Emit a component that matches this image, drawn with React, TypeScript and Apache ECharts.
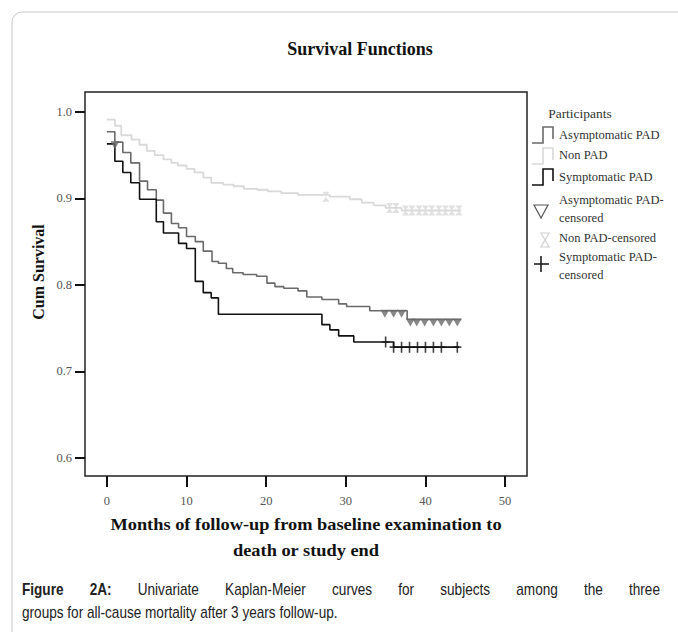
import React, { useEffect, useRef } from "react";
import * as echarts from "echarts";

const X_TICKS = [0, 10, 20, 30, 40, 50];
const Y_TICKS = [0.6, 0.7, 0.8, 0.9, 1.0];

const ASYM_T = [0, 1.0, 2.0, 3.0, 4.1, 5.1, 6.2, 7.1, 8.1, 9.0, 10.0, 11.1, 12.1, 13.2, 14.0, 15.0, 15.8, 17.1, 18.8, 20.1, 21.1, 22.2, 24.0, 25.1, 27.0, 29.1, 30.1, 33.0, 37.7, 44.5];
const ASYM_S = [0.977, 0.965, 0.953, 0.941, 0.92, 0.91, 0.898, 0.883, 0.871, 0.866, 0.856, 0.85, 0.839, 0.827, 0.825, 0.819, 0.814, 0.812, 0.81, 0.802, 0.798, 0.796, 0.793, 0.786, 0.783, 0.778, 0.775, 0.77, 0.76, 0.76];

const NON_T = [0, 1.0, 1.8, 3.1, 4.1, 5.0, 6.0, 7.1, 8.1, 8.9, 10.0, 11.0, 12.1, 13.1, 14.6, 15.9, 17.2, 18.9, 20.2, 21.9, 24.0, 28.0, 30.5, 32.0, 33.5, 35.0, 37.0, 44.5];
const NON_S = [0.991, 0.984, 0.973, 0.968, 0.962, 0.955, 0.95, 0.945, 0.941, 0.938, 0.934, 0.93, 0.924, 0.918, 0.916, 0.914, 0.911, 0.91, 0.908, 0.906, 0.904, 0.902, 0.899, 0.895, 0.892, 0.889, 0.886, 0.886];

const SYM_T = [0, 1.0, 2.0, 3.0, 4.1, 6.2, 7.1, 9.0, 10.0, 11.1, 12.1, 13.1, 14.0, 27.0, 28.0, 29.1, 31.0, 36.0, 44.2];
const SYM_S = [0.963, 0.943, 0.93, 0.918, 0.899, 0.873, 0.86, 0.848, 0.842, 0.804, 0.791, 0.785, 0.766, 0.754, 0.748, 0.741, 0.734, 0.728, 0.728];

const ASYM_CENS_T = [1.0, 34.9, 36.0, 37.0, 38.1, 38.9, 39.9, 41.0, 42.0, 43.0, 44.0];
const ASYM_CENS_S = [0.965, 0.77, 0.77, 0.77, 0.76, 0.76, 0.76, 0.76, 0.76, 0.76, 0.76];

const NON_CENS_T = [27.5, 35.5, 36.3, 37.5, 38.3, 39.2, 40.0, 40.8, 41.7, 42.5, 43.3, 44.2];
const NON_CENS_S = [0.902, 0.889, 0.889, 0.886, 0.886, 0.886, 0.886, 0.886, 0.886, 0.886, 0.886, 0.886];

const SYM_CENS_T = [35.0, 36.0, 37.0, 38.0, 39.0, 40.0, 41.0, 42.0, 44.0];
const SYM_CENS_S = [0.734, 0.728, 0.728, 0.728, 0.728, 0.728, 0.728, 0.728, 0.728];

const TITLE = "Survival Functions";
const X_NAME = ["Months of follow-up from baseline examination to", "death or study end"];
const Y_NAME = "Cum Survival";
const LEGEND_TITLE = "Participants";
const CAPTION_1 = ["Figure", "2A:", "Univariate", "Kaplan-Meier", "curves", "for", "subjects", "among", "the", "three"];
const CAPTION_BOLD = 2;
const CAPTION_2 = "groups for all-cause mortality after 3 years follow-up.";

const zip = (a: number[], b: number[]) => a.map((v, i) => [v, b[i]]);

const C_ASYM = "#6a6a6a";
const C_NON = "#d9d9d9";
const C_SYM = "#111111";
const SERIF = "'Liberation Serif', 'DejaVu Serif', serif";
const SANS = "'Liberation Sans', Arial, sans-serif";

const HOURGLASS = "path://M0,0 L10,0 L5,8 L10,16 L0,16 L5,8 Z";
const PLUS = "path://M4,0 H6 V6 H10 V8 H6 V14 H4 V8 H0 V6 H4 Z";

export default function App() {
  const ref = useRef<HTMLDivElement>(null);
  useEffect(() => {
    if (!ref.current) return;
    const chart = echarts.init(ref.current, null, { renderer: "svg" });

    // caption justification
    const canvas = document.createElement("canvas");
    const ctx = canvas.getContext("2d")!;
    const capSize = 16;
    const capScale = 0.85;
    const fontB = `bold ${capSize}px ${SANS}`;
    const fontN = `${capSize}px ${SANS}`;
    const widths = CAPTION_1.map((w, i) => {
      ctx.font = i < CAPTION_BOLD ? fontB : fontN;
      return ctx.measureText(w).width * capScale;
    });
    const left = 22, right = 660;
    const total = widths.reduce((a, b) => a + b, 0);
    const gap = (right - left - total) / (CAPTION_1.length - 1);
    let cx = left;
    const capWords: any[] = CAPTION_1.map((w, i) => {
      const el = {
        type: "text",
        x: cx,
        y: 590,
        scaleX: capScale,
        style: {
          text: w,
          font: i < CAPTION_BOLD ? fontB : fontN,
          fill: "#222",
          align: "left",
          verticalAlign: "middle",
        },
      };
      cx += widths[i] + gap;
      return el;
    });

    const legText = (text: string, y: number) => ({
      type: "text",
      x: 559,
      y,
      style: { text, font: `12.5px ${SERIF}`, fill: "#333", align: "left", verticalAlign: "middle" },
    });
    const stepIcon = (cy: number, color: string) => ({
      type: "polyline",
      shape: {
        points: [
          [532, cy + 8],
          [543, cy + 8],
          [543, cy - 8],
          [553, cy - 8],
          [553, cy + 4],
        ],
      },
      style: { stroke: color, lineWidth: 1.6, fill: "none" },
    });

    const option: any = {
      animation: false,
      backgroundColor: "#fff",
      title: {
        text: TITLE,
        left: 355,
        top: 35,
        textAlign: "center",
        textStyle: { fontFamily: SERIF, fontSize: 18, fontWeight: "bold", color: "#111" },
      },
      grid: {
        left: 85,
        right: 151,
        top: 92,
        bottom: 156,
        show: true,
        borderColor: "#222",
        borderWidth: 1.5,
        backgroundColor: "#fff",
      },
      xAxis: {
        type: "value",
        min: -2.75,
        max: 52.75,
        splitLine: { show: false },
        axisLine: { show: false, onZero: false },
        axisTick: { show: true, length: 11, lineStyle: { color: "#111", width: 2 }, customValues: X_TICKS },
        axisLabel: {
          customValues: X_TICKS,
          margin: 18,
          fontFamily: SERIF,
          fontSize: 12.5,
          color: "#555",
        },
      },
      yAxis: {
        type: "value",
        min: 0.579,
        max: 1.023,
        splitLine: { show: false },
        axisLine: { show: false, onZero: false },
        axisTick: { show: true, length: 10, lineStyle: { color: "#111", width: 2 }, customValues: Y_TICKS },
        axisLabel: {
          customValues: Y_TICKS,
          margin: 13,
          fontFamily: SERIF,
          fontSize: 12.5,
          color: "#555",
          formatter: (v: number) => v.toFixed(1),
        },
      },
      series: [
        {
          name: "Non PAD",
          type: "line",
          step: "end",
          showSymbol: false,
          data: zip(NON_T, NON_S),
          lineStyle: { color: C_NON, width: 1.8 },
          z: 2,
        },
        {
          name: "Asymptomatic PAD",
          type: "line",
          step: "end",
          showSymbol: false,
          data: zip(ASYM_T, ASYM_S),
          lineStyle: { color: C_ASYM, width: 1.6 },
          z: 3,
        },
        {
          name: "Symptomatic PAD",
          type: "line",
          step: "end",
          showSymbol: false,
          data: zip(SYM_T, SYM_S),
          lineStyle: { color: C_SYM, width: 1.6 },
          z: 4,
        },
        {
          name: "Non PAD-censored",
          type: "scatter",
          symbol: HOURGLASS,
          symbolSize: [7, 10],
          data: zip(NON_CENS_T, NON_CENS_S),
          itemStyle: { color: C_NON },
          z: 5,
        },
        {
          name: "Asymptomatic PAD-censored",
          type: "scatter",
          symbol: "triangle",
          symbolRotate: 180,
          symbolSize: [9, 8],
          symbolOffset: [0, 3],
          data: zip(ASYM_CENS_T, ASYM_CENS_S),
          itemStyle: { color: C_ASYM },
          z: 6,
        },
        {
          name: "Symptomatic PAD-censored",
          type: "scatter",
          symbol: PLUS,
          symbolSize: [8, 11],
          data: zip(SYM_CENS_T, SYM_CENS_S),
          itemStyle: { color: C_SYM },
          z: 7,
        },
      ],
      graphic: [
        {
          type: "rect",
          shape: { x: 12, y: 12, width: 700, height: 660, r: 10 },
          style: { fill: "none", stroke: "#c8c8c8", lineWidth: 1 },
          z: -10,
          silent: true,
        },
        {
          type: "text",
          x: 38,
          y: 272,
          rotation: Math.PI / 2,
          style: { text: Y_NAME, font: `bold 16px ${SERIF}`, fill: "#111", align: "center", verticalAlign: "middle" },
        },
        {
          type: "text",
          x: 306,
          y: 524,
          scaleX: 1.08,
          style: { text: X_NAME[0], font: `bold 17px ${SERIF}`, fill: "#111", align: "center", verticalAlign: "middle" },
        },
        {
          type: "text",
          x: 306,
          y: 550,
          scaleX: 1.08,
          style: { text: X_NAME[1], font: `bold 17px ${SERIF}`, fill: "#111", align: "center", verticalAlign: "middle" },
        },
        {
          type: "text",
          x: 580,
          y: 113,
          style: { text: LEGEND_TITLE, font: `13.5px ${SERIF}`, fill: "#333", align: "center", verticalAlign: "middle" },
        },
        stepIcon(135, C_ASYM),
        legText("Asymptomatic PAD", 135),
        stepIcon(156, C_NON),
        legText("Non PAD", 155),
        stepIcon(177, C_SYM),
        legText("Symptomatic PAD", 177),
        {
          type: "polygon",
          shape: { points: [[534, 205], [548, 205], [541, 218]] },
          style: { fill: "none", stroke: "#555", lineWidth: 1.2 },
        },
        legText("Asymptomatic PAD-", 200),
        legText("censored", 218),
        {
          type: "polygon",
          shape: { points: [[541, 233], [549, 233], [545, 240], [549, 247], [541, 247], [545, 240]] },
          style: { fill: "none", stroke: "#d0d0d0", lineWidth: 1.2 },
        },
        legText("Non PAD-censored", 238),
        {
          type: "line",
          shape: { x1: 534, y1: 264, x2: 549, y2: 264 },
          style: { stroke: "#111", lineWidth: 1.5 },
        },
        {
          type: "line",
          shape: { x1: 541, y1: 256, x2: 541, y2: 272 },
          style: { stroke: "#111", lineWidth: 1.5 },
        },
        legText("Symptomatic PAD-", 257),
        legText("censored", 275),
        ...capWords,
        {
          type: "text",
          x: 22,
          y: 613,
          scaleX: capScale,
          style: { text: CAPTION_2, font: fontN, fill: "#222", align: "left", verticalAlign: "middle" },
        },
      ],
    };
    chart.setOption(option);
    return () => chart.dispose();
  }, []);
  return (
    <div
      ref={ref}
      style={{ position: "fixed", left: 0, top: 0, width: 678, height: 632, background: "#fff" }}
    />
  );
}
